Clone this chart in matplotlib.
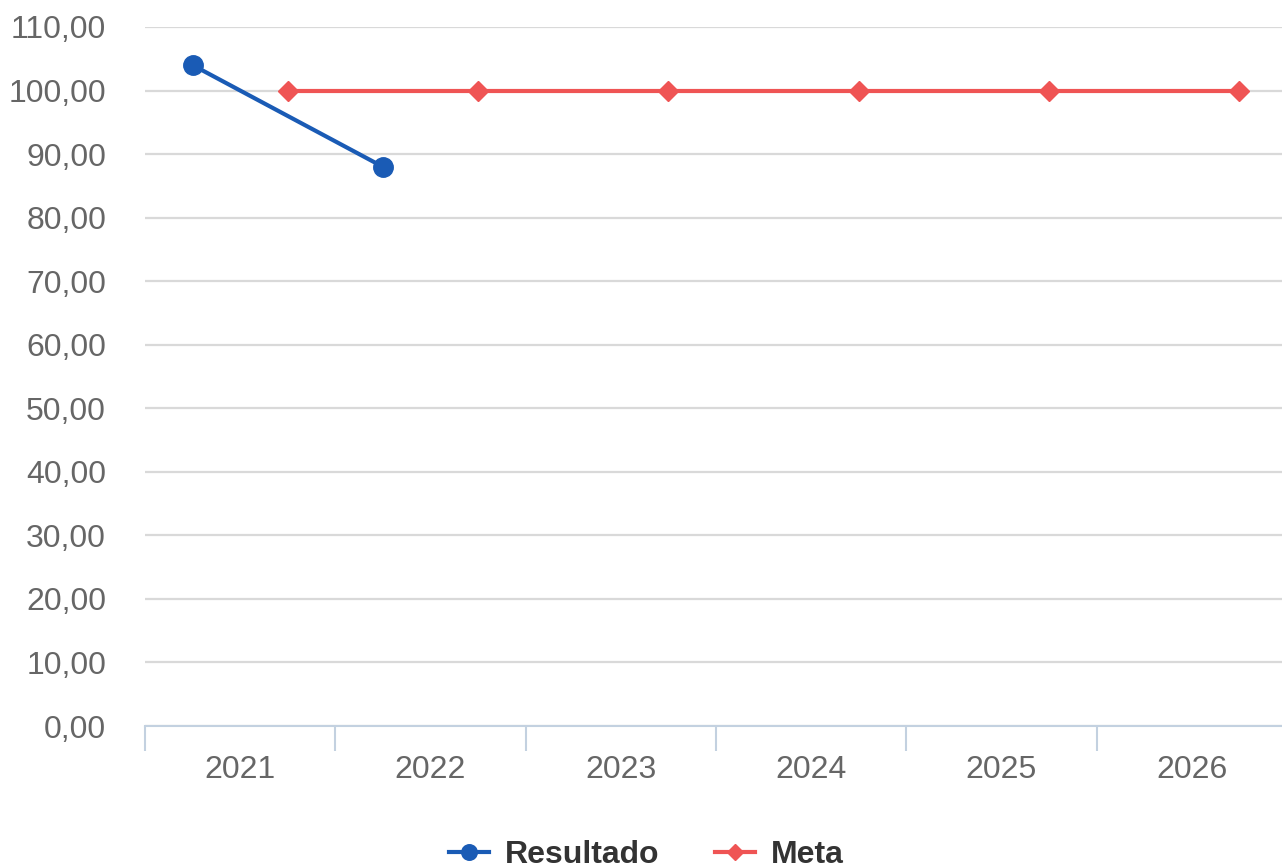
import numpy as np
import matplotlib
matplotlib.use("Agg")
from matplotlib import pyplot as plt
from matplotlib.ticker import FuncFormatter

anos = ["2021", "2022", "2023", "2024", "2025", "2026"]
resultado = [104, 88]
meta = [100, 100, 100, 100, 100, 100]

plt.rcParams['font.family'] = ['Liberation Sans', 'DejaVu Sans']

fig = plt.figure(figsize=(12.82, 8.67), dpi=100)
# axes slightly wider than the figure: last category runs off the right edge
ax = fig.add_axes([145 / 1282, 141 / 867, 1142 / 1282, 699 / 867])

x = np.arange(len(anos))
ax.plot(x[:len(resultado)] - 0.25, resultado, color='#1a5bb5', lw=3,
        marker='o', ms=14, label='Resultado', zorder=4)
ax.plot(x + 0.25, meta, color='#ef5454', lw=3, marker='D', ms=10,
        label='Meta', zorder=3)

ax.set_xlim(-0.5, len(anos) - 0.5)
ax.set_ylim(0, 110)
ax.set_yticks(np.arange(0, 111, 10))
ax.yaxis.set_major_formatter(FuncFormatter(lambda v, p: f"{v:.2f}".replace('.', ',')))
ax.grid(axis='y', color='#d9d9d9', lw=1.6)
ax.set_axisbelow(True)

ax.set_xticks(np.arange(len(anos)) - 0.5)
ax.set_xticklabels([])
ax.set_xticks(x, minor=True)
ax.set_xticklabels(anos, minor=True)
ax.tick_params(axis='x', which='major', length=18, width=1.5, color='#c3d1e0')
ax.tick_params(axis='x', which='minor', length=0, pad=21, labelsize=23,
               labelcolor='#666666')
ax.tick_params(axis='y', length=0, pad=28, labelsize=23, labelcolor='#666666')

for s in ['top', 'right', 'left']:
    ax.spines[s].set_visible(False)
ax.spines['bottom'].set_color('#c3d1e0')
ax.spines['bottom'].set_linewidth(1.5)

leg = fig.legend(loc='center', bbox_to_anchor=(0.504, 0.014), ncol=2,
                 frameon=False, prop={'size': 23, 'weight': 'bold'},
                 handlelength=1.25, columnspacing=1.75, handletextpad=0.5,
                 markerscale=0.8)
for t in leg.get_texts():
    t.set_color('#333333')

fig.savefig("out.png", dpi=100)
